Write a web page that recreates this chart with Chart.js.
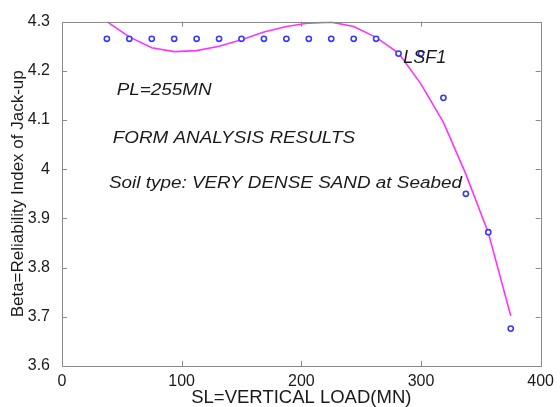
<!DOCTYPE html>
<html>
<head>
<meta charset="utf-8">
<script src="https://cdn.jsdelivr.net/npm/chart.js@4/dist/chart.umd.min.js"></script>
<style>
  html, body { margin: 0; padding: 0; background: #ffffff; }
  #wrap { width: 560px; height: 407px; }
</style>
</head>
<body>
<div id="wrap"><canvas id="c" width="560" height="407"></canvas></div>
<script>
// ---- data ----
const loads = [37.5, 56.25, 75, 93.75, 112.5, 131.25, 150, 168.75, 187.5, 206.25, 225, 243.75, 262.5, 281.25, 300, 318.75, 337.5, 356.25, 375];
const betaForm = [4.265, 4.265, 4.265, 4.265, 4.265, 4.265, 4.265, 4.265, 4.265, 4.265, 4.265, 4.265, 4.265, 4.235, 4.235, 4.145, 3.950, 3.872, 3.676];
const betaFit = [4.300, 4.269, 4.247, 4.239, 4.241, 4.250, 4.263, 4.279, 4.290, 4.297, 4.299, 4.290, 4.268, 4.236, 4.173, 4.095, 3.990, 3.871, 3.702];
const xTicks = [0, 100, 200, 300, 400];
const yTicks = [3.6, 3.7, 3.8, 3.9, 4.0, 4.1, 4.2, 4.3];
const xTitle = 'SL=VERTICAL LOAD(MN)';
const yTitle = 'Beta=Reliability Index of Jack-up';
const notes = [
  { text: 'PL=255MN', dx: 54.7, y: 95, size: 16, sx: 1.18 },
  { text: 'FORM ANALYSIS RESULTS', dx: 50.7, y: 143.3, size: 16, sx: 1.18 },
  { text: 'Soil type: VERY DENSE SAND at Seabed', dx: 47, y: 188, size: 16, sx: 1.18 },
  { text: 'LSF1', dx: 341.3, y: 63.3, size: 18, sx: 1.0 }
];

const FONT = '"Liberation Sans", Arial, Helvetica, sans-serif';
const AXIS_GREY = '#8a8a8a';

const boxPlugin = {
  id: 'box',
  afterDatasetsDraw(chart) {
    const { ctx, chartArea: a, scales } = chart;
    ctx.save();
    ctx.strokeStyle = AXIS_GREY;
    ctx.lineWidth = 1;
    ctx.strokeRect(Math.round(a.left) + 0.5, Math.round(a.top) + 0.5,
                   Math.round(a.right - a.left), Math.round(a.bottom - a.top));
    const L = 5;
    ctx.beginPath();
    xTicks.forEach(v => {
      if (v === 0 || v === 400) return;
      const x = Math.round(scales.x.getPixelForValue(v)) + 0.5;
      ctx.moveTo(x, a.bottom); ctx.lineTo(x, a.bottom - L);
      ctx.moveTo(x, a.top); ctx.lineTo(x, a.top + L);
    });
    yTicks.forEach(v => {
      if (v === 3.6 || v === 4.3) return;
      const y = Math.round(scales.y.getPixelForValue(v)) + 0.5;
      ctx.moveTo(a.left, y); ctx.lineTo(a.left + L, y);
      ctx.moveTo(a.right, y); ctx.lineTo(a.right - L, y);
    });
    ctx.stroke();
    // annotations
    ctx.fillStyle = '#1a1a1a';
    ctx.textBaseline = 'alphabetic';
    ctx.textAlign = 'left';
    notes.forEach(n => {
      ctx.save();
      ctx.font = 'italic ' + n.size + 'px ' + FONT;
      ctx.translate(a.left + n.dx, n.y);
      ctx.scale(n.sx, 1);
      ctx.fillText(n.text, 0, 0);
      ctx.restore();
    });
    ctx.restore();
  }
};

new Chart(document.getElementById('c'), {
  type: 'scatter',
  data: {
    datasets: [
      {
        label: 'FORM',
        data: loads.map((x, i) => ({ x, y: betaForm[i] })),
        showLine: false,
        pointStyle: 'circle',
        pointRadius: 2.6,
        pointBorderWidth: 1.6,
        pointBorderColor: '#3a3aff',
        pointBackgroundColor: '#ffffff'
      },
      {
        label: 'LSF1',
        data: loads.map((x, i) => ({ x, y: betaFit[i] })),
        showLine: true,
        borderColor: '#ff33ff',
        borderWidth: 1.6,
        pointRadius: 0,
        tension: 0,
        fill: false
      }
    ]
  },
  options: {
    responsive: false,
    animation: false,
    devicePixelRatio: 1,
    layout: { padding: { top: 15, right: 17, left: 0, bottom: 0 } },
    plugins: { legend: { display: false }, tooltip: { enabled: false } },
    scales: {
      x: {
        type: 'linear',
        min: 0, max: 400,
        afterFit(s) { s.height = 41; },
        afterBuildTicks(s) { s.ticks = xTicks.map(v => ({ value: v })); },
        grid: { display: false, drawTicks: false },
        border: { display: false },
        ticks: {
          padding: 6,
          color: '#1a1a1a',
          font: { family: FONT, size: 16 },
          maxRotation: 0,
          callback: v => String(v)
        },
        title: {
          display: true,
          text: xTitle,
          color: '#1a1a1a',
          font: { family: FONT, size: 18.5, lineHeight: 1 },
          padding: { top: 0, bottom: 0 }
        }
      },
      y: {
        type: 'linear',
        min: 3.6, max: 4.3,
        afterFit(s) { s.width = 62; },
        afterBuildTicks(s) { s.ticks = yTicks.map(v => ({ value: v })); },
        grid: { display: false, drawTicks: false },
        border: { display: false },
        ticks: {
          padding: 12,
          color: '#1a1a1a',
          font: { family: FONT, size: 16 },
          callback: v => String(parseFloat(Number(v).toFixed(1)))
        },
        title: {
          display: true,
          text: yTitle,
          color: '#1a1a1a',
          font: { family: FONT, size: 17, lineHeight: 1.2 },
          padding: { top: 8, bottom: 0 }
        }
      }
    }
  },
  plugins: [boxPlugin]
});
</script>
</body>
</html>
